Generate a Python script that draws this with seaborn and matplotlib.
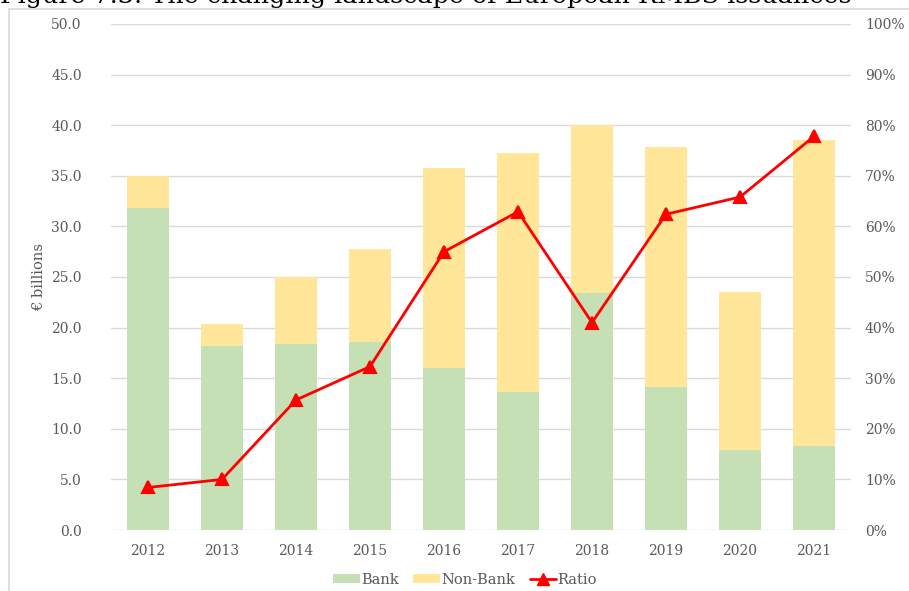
import matplotlib
matplotlib.use("Agg")
import matplotlib.pyplot as plt
import seaborn as sns
import pandas as pd
from matplotlib.patches import Patch
from matplotlib.lines import Line2D
from matplotlib.ticker import FuncFormatter, MultipleLocator

# ---- data ----
years = ["2012", "2013", "2014", "2015", "2016", "2017", "2018", "2019", "2020", "2021"]
bank = [31.8, 18.2, 18.4, 18.6, 16.0, 13.6, 23.4, 14.1, 7.9, 8.3]
non_bank = [3.2, 2.2, 6.6, 9.2, 19.8, 23.7, 16.6, 23.7, 15.6, 30.2]
ratio = [0.084, 0.100, 0.257, 0.323, 0.550, 0.629, 0.410, 0.624, 0.658, 0.778]
left_ticks = [0, 5, 10, 15, 20, 25, 30, 35, 40, 45, 50]
title = "Figure 7.3: The changing landscape of European RMBS issuances"

df = pd.DataFrame({"year": years, "bank": bank, "non_bank": non_bank, "ratio": ratio})
df["total"] = df["bank"] + df["non_bank"]

GREEN = "#C5E0B4"
YELLOW = "#FFE699"
RED = "#FF0000"
TXT = "#595959"
GRID = "#D9D9D9"
FONT = "DejaVu Serif"

sns.set_theme(style="white")
plt.rcParams["font.family"] = [FONT]

W, H = 909, 591
fig = plt.figure(figsize=(W / 100, H / 100), dpi=100)
ax = fig.add_axes([111 / W, 61 / H, 740 / W, 506 / H])

sns.barplot(data=df, x="year", y="total", color=YELLOW, saturation=1, width=0.56, ax=ax,
            zorder=2, linewidth=0, edgecolor="none")
sns.barplot(data=df, x="year", y="bank", color=GREEN, saturation=1, width=0.56, ax=ax,
            zorder=3, linewidth=0, edgecolor="none")

ax.set_ylim(0, 50)
ax.set_yticks(left_ticks)
ax.yaxis.set_major_formatter(FuncFormatter(lambda v, p: f"{v:.1f}"))
ax.set_xlim(-0.5, len(years) - 0.5)
ax.grid(axis="y", color=GRID, linewidth=1.0, zorder=0)
ax.set_axisbelow(True)
for s in ax.spines.values():
    s.set_visible(False)
ax.tick_params(axis="both", length=0, labelsize=10, labelcolor=TXT)
ax.tick_params(axis="y", pad=21)
ax.tick_params(axis="x", pad=10)
ax.set_xlabel("")
ax.set_ylabel("€ billions", color=TXT, fontsize=10.5, labelpad=4)

ax2 = ax.twinx()
sns.pointplot(data=df, x="year", y="ratio", color=RED, marker="^", markersize=9,
              linewidth=2, ax=ax2, zorder=5)
ax2.set_ylim(0, 1)
ax2.yaxis.set_major_locator(MultipleLocator(0.1))
ax2.yaxis.set_major_formatter(FuncFormatter(lambda v, p: f"{v*100:.0f}%"))
ax2.set_xlim(-0.5, len(years) - 0.5)
ax2.set_ylabel("")
ax2.grid(False)
for s in ax2.spines.values():
    s.set_visible(False)
ax2.tick_params(axis="y", length=0, labelsize=10, labelcolor=TXT, pad=10)

handles = [Patch(facecolor=GREEN, edgecolor="none", label="Bank"),
           Patch(facecolor=YELLOW, edgecolor="none", label="Non-Bank"),
           Line2D([0], [0], color=RED, lw=2, marker="^", markersize=8, label="Ratio")]
leg = fig.legend(handles=handles, loc="center", bbox_to_anchor=(465 / W, 11 / H), ncol=3,
                 frameon=False, fontsize=10.5, handlelength=1.8, handleheight=0.6,
                 handletextpad=0.1, columnspacing=1.0)
for t in leg.get_texts():
    t.set_color(TXT)

# frame lines of the chart area
fig.add_artist(Line2D([9 / W, 1], [1 - 9 / H, 1 - 9 / H], color=GRID, lw=1.2, transform=fig.transFigure))
fig.add_artist(Line2D([9 / W, 9 / W], [0, 1 - 9 / H], color=GRID, lw=1.2, transform=fig.transFigure))

# title, clipped at the top edge as in the reference
t = fig.text(0.0, 1 - 3.5 / H, title, fontsize=18, color="black", va="baseline", ha="left",
             family="DejaVu Serif")
fig.canvas.draw()
bb = t.get_window_extent(renderer=fig.canvas.get_renderer())
t.set_fontsize(18 * 851 / bb.width)

fig.savefig("out.png", dpi=100)
